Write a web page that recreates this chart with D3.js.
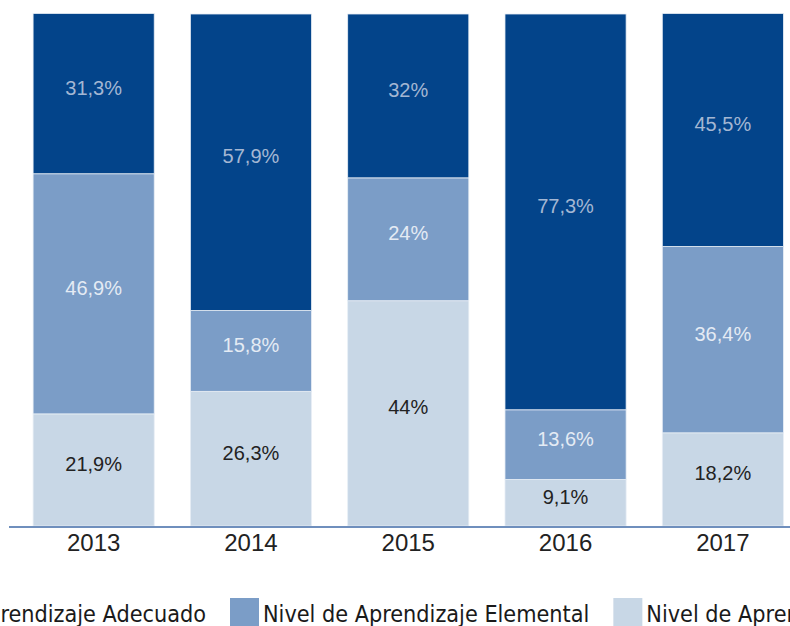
<!DOCTYPE html>
<html lang="es">
<head>
  <meta charset="UTF-8">
  <title>Niveles de aprendizaje</title>
  <style>
    body {
      margin: 0;
      padding: 0;
      background: #fff;
    }
    svg {
      display: block;
    }
    .valor {
      font-family: "Liberation Sans", Arial, sans-serif;
      font-size: 20px;
      text-anchor: middle;
    }
    .anio {
      font-family: "Liberation Sans", Arial, sans-serif;
      font-size: 24px;
      fill: #222;
      text-anchor: middle;
    }
    .leyenda {
      font-family: "DejaVu Sans Condensed", "Liberation Sans Narrow", sans-serif;
      font-size: 23.2px;
      fill: #1a1a1a;
    }
  </style>
</head>
<body>
  <div id="grafico"></div>

  <script src="https://d3js.org/d3.v7.min.js"></script>
  <script>
    // Datos (porcentajes por año)
    const anios = ["2013", "2014", "2015", "2016", "2017"];
    const adecuado = [31.3, 57.9, 32, 77.3, 45.5];
    const elemental = [46.9, 15.8, 24, 13.6, 36.4];
    const insuficiente = [21.9, 26.3, 44, 9.1, 18.2];
    const etiquetasAdecuado = ["31,3%", "57,9%", "32%", "77,3%", "45,5%"];
    const etiquetasElemental = ["46,9%", "15,8%", "24%", "13,6%", "36,4%"];
    const etiquetasInsuficiente = ["21,9%", "26,3%", "44%", "9,1%", "18,2%"];
    const nombresSeries = [
      "Nivel de Aprendizaje Adecuado",
      "Nivel de Aprendizaje Elemental",
      "Nivel de Aprendizaje Insuficiente"
    ];

    const width = 790;
    const height = 626;

    // Series de abajo hacia arriba
    const series = [
      { key: "insuficiente", valores: insuficiente, etiquetas: etiquetasInsuficiente, color: "#c8d7e6", texto: "#222222" },
      { key: "elemental", valores: elemental, etiquetas: etiquetasElemental, color: "#7b9dc7", texto: "#e4ebf4" },
      { key: "adecuado", valores: adecuado, etiquetas: etiquetasAdecuado, color: "#03448a", texto: "#a4b7d3" }
    ];

    const tabla = anios.map((a, i) => {
      const fila = { anio: a };
      series.forEach(s => { fila[s.key] = s.valores[i]; });
      return fila;
    });

    const stack = d3.stack().keys(series.map(s => s.key));
    const capas = stack(tabla);

    const x = d3.scaleBand()
      .domain(anios)
      .range([15, 801.5])
      .paddingInner(0.23)
      .paddingOuter(0.115);

    const y = d3.scaleLinear()
      .domain([0, 100])
      .range([526, 14]);

    const svg = d3.select("#grafico")
      .append("svg")
      .attr("width", width)
      .attr("height", height);

    // Barras apiladas
    capas.forEach((capa, k) => {
      const s = series[k];
      const g = svg.append("g");

      g.selectAll("rect")
        .data(capa)
        .enter()
        .append("rect")
        .attr("x", d => x(d.data.anio))
        .attr("y", d => y(d[1]))
        .attr("width", x.bandwidth())
        .attr("height", d => y(d[0]) - y(d[1]))
        .attr("fill", s.color)
        .attr("stroke", "#e8eef5")
        .attr("stroke-width", 0.8);

      g.selectAll("text")
        .data(capa)
        .enter()
        .append("text")
        .attr("class", "valor")
        .attr("x", d => x(d.data.anio) + x.bandwidth() / 2)
        .attr("y", d => (y(d[0]) + y(d[1])) / 2 + 1)
        .attr("fill", s.texto)
        .text((d, i) => s.etiquetas[i]);
    });

    // Eje horizontal
    svg.append("line")
      .attr("x1", 9)
      .attr("x2", width)
      .attr("y1", y(0) + 1)
      .attr("y2", y(0) + 1)
      .attr("stroke", "#6f8fbd")
      .attr("stroke-width", 2);

    svg.append("g")
      .selectAll("text")
      .data(anios)
      .enter()
      .append("text")
      .attr("class", "anio")
      .attr("x", d => x(d) + x.bandwidth() / 2)
      .attr("y", 551)
      .text(d => d);

    // Leyenda (la primera entrada queda cortada a la izquierda)
    const coloresLeyenda = ["#03448a", "#7b9dc7", "#c8d7e6"];
    const leyenda = svg.append("g");
    const items = leyenda.selectAll("g")
      .data(nombresSeries)
      .enter()
      .append("g");

    items.append("text")
      .attr("class", "leyenda")
      .attr("y", 622)
      .text(d => d);

    const anchos = [];
    items.select("text").each(function () { anchos.push(this.getComputedTextLength()); });

    // se ajusta para que la segunda muestra empiece en x = 230
    let pos = 230 - (33 + anchos[0] + 24);
    items.each(function (d, i) {
      const item = d3.select(this);
      item.append("rect")
        .attr("x", pos)
        .attr("y", 598)
        .attr("width", 29)
        .attr("height", 29)
        .attr("fill", coloresLeyenda[i]);
      item.select("text").attr("x", pos + 33);
      pos += 33 + anchos[i] + 24;
    });
  </script>
</body>
</html>
